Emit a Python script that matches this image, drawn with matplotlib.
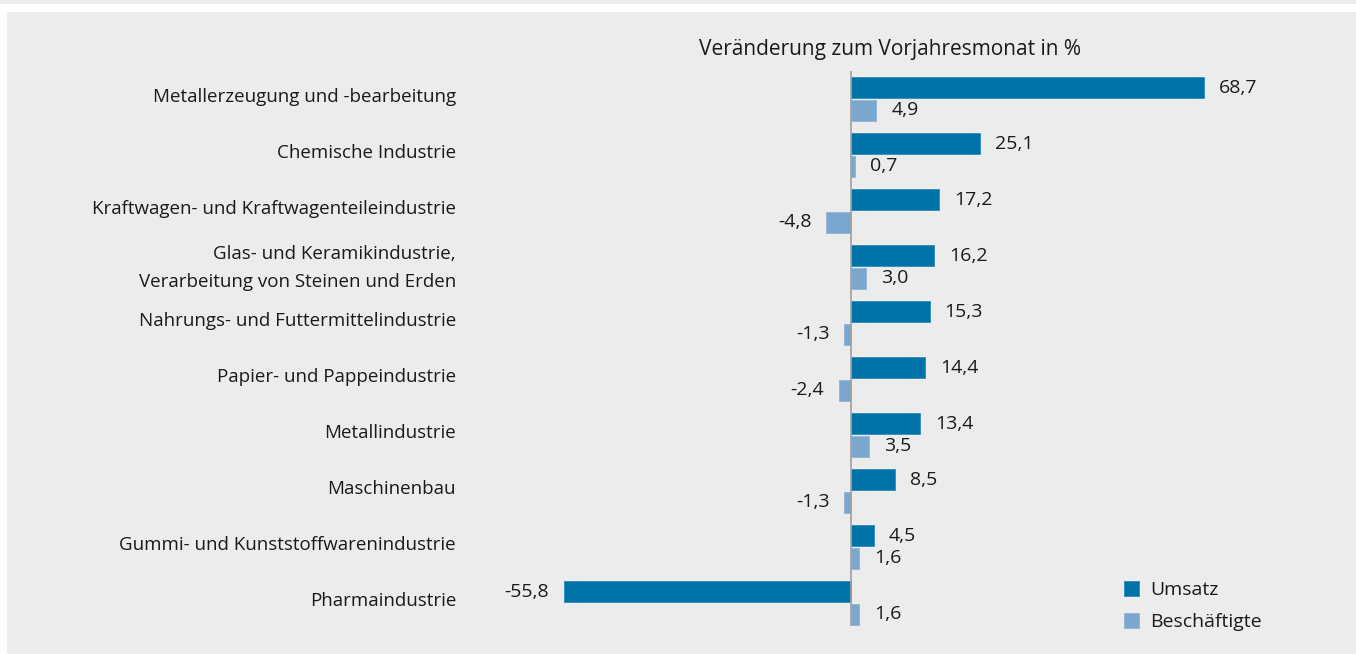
import matplotlib
matplotlib.use("Agg")
import matplotlib.pyplot as plt
from matplotlib.patches import Rectangle
import numpy as np

categories = [
    "Metallerzeugung und -bearbeitung",
    "Chemische Industrie",
    "Kraftwagen- und Kraftwagenteileindustrie",
    "Glas- und Keramikindustrie,\nVerarbeitung von Steinen und Erden",
    "Nahrungs- und Futtermittelindustrie",
    "Papier- und Pappeindustrie",
    "Metallindustrie",
    "Maschinenbau",
    "Gummi- und Kunststoffwarenindustrie",
    "Pharmaindustrie",
]
umsatz = [68.7, 25.1, 17.2, 16.2, 15.3, 14.4, 13.4, 8.5, 4.5, -55.8]
beschaeftigte = [4.9, 0.7, -4.8, 3.0, -1.3, -2.4, 3.5, -1.3, 1.6, 1.6]
series_names = ["Umsatz", "Beschäftigte"]
title = "Veränderung zum Vorjahresmonat in %"

plt.rcParams['font.family'] = ['Open Sans', 'DejaVu Sans']

W, H = 1356, 654
fig = plt.figure(figsize=(W / 100, H / 100), dpi=100)
fig.patch.set_facecolor("white")
bg = "#ececec"
fig.patches.append(Rectangle((7 / W, 0), 1 - 7 / W, (H - 12) / H, transform=fig.transFigure,
                             facecolor=bg, edgecolor="none", zorder=-10))
fig.patches.append(Rectangle((0, (H - 4) / H), 1, 4 / H, transform=fig.transFigure,
                             facecolor=bg, edgecolor="none", zorder=-10))

x0, xmin, xmax = 851, -60, 72
scale = 353 / 68.7
left_px = x0 + xmin * scale
right_px = x0 + xmax * scale
top_px, bottom_px = 71, 631
ax = fig.add_axes([left_px / W, 1 - bottom_px / H, (right_px - left_px) / W, (bottom_px - top_px) / H])
ax.set_facecolor("none")
ax.set_xlim(xmin, xmax)
ax.set_ylim(len(categories) - 0.5, -0.5)

c1, c2 = "#0072a7", "#7ba6ce"
y = np.arange(len(categories))
h = 0.375
off = 0.2
ax.barh(y - off, umsatz, height=h, color=c1, edgecolor="#2a8cc0", linewidth=0.6, label=series_names[0])
ax.barh(y + off, beschaeftigte, height=h, color=c2, edgecolor="#8fb6da", linewidth=0.6, label=series_names[1])
ax.axvline(0, color="#a0a0a0", linewidth=1.2, ymin=0.01, ymax=1.0)

fs_val = 14
fs_cat = 13.5
pad_px = 15
for yi, v in zip(y - off, umsatz):
    ax.annotate(f"{v:.1f}".replace(".", ","), (v, yi), xytext=(pad_px if v >= 0 else -pad_px, 0),
                textcoords="offset pixels", ha="left" if v >= 0 else "right", va="center",
                fontsize=fs_val, color="#1a1a1a")
for yi, v in zip(y + off, beschaeftigte):
    ax.annotate(f"{v:.1f}".replace(".", ","), (v, yi), xytext=(pad_px if v >= 0 else -pad_px, 0),
                textcoords="offset pixels", ha="left" if v >= 0 else "right", va="center",
                fontsize=fs_val, color="#1a1a1a")

for yi, lab in zip(y, categories):
    dy = -1 if "\n" in lab else 2
    ax.annotate(lab, (0, yi), xycoords=("figure pixels", "data"), xytext=(456, dy),
                textcoords=("figure pixels", "offset pixels"), ha="right", va="center",
                fontsize=fs_cat, color="#1a1a1a", linespacing=1.65)

fig.text(890 / W, 1 - 50 / H, title, ha="center", va="center", fontsize=15, color="#1a1a1a")

for sp in ax.spines.values():
    sp.set_visible(False)
ax.set_xticks([])
ax.set_yticks([])

leg = fig.legend(loc="upper left", bbox_to_anchor=(1116 / W, 1 - 573 / H), frameon=False,
                 fontsize=fs_val, handlelength=0.8, handleheight=0.8, handletextpad=0.55,
                 labelspacing=0.72, borderaxespad=0)
for t in leg.get_texts():
    t.set_color("#1a1a1a")

fig.savefig("out.png", dpi=100, facecolor=fig.get_facecolor())
